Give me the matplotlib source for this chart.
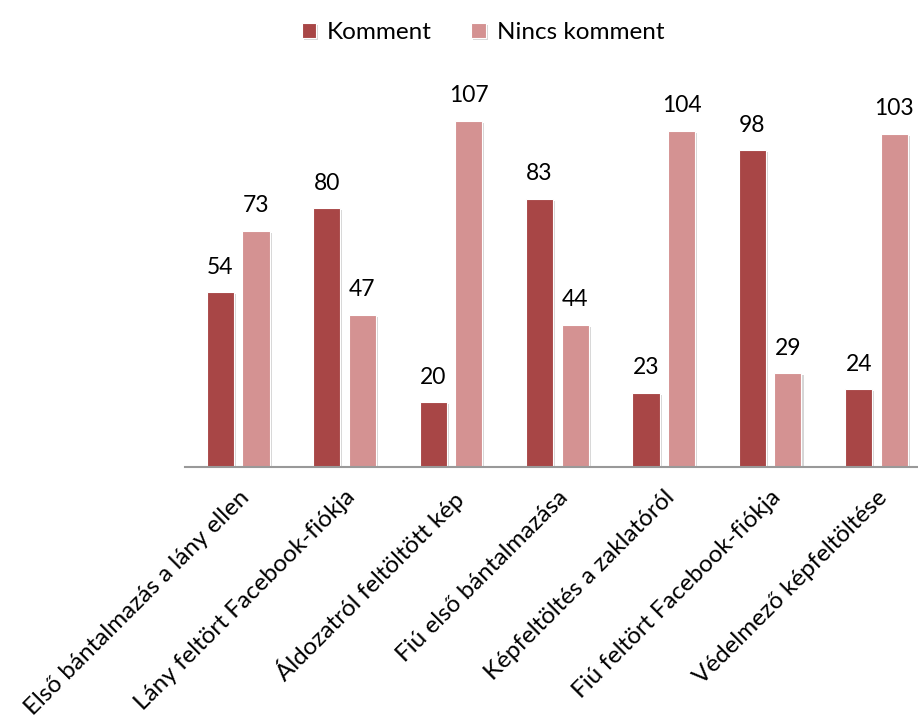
import numpy as np
import matplotlib.pyplot as plt
import matplotlib.patheffects as pe

categories = ['Első bántalmazás a lány ellen', 'Lány feltört Facebook-fiókja',
              'Áldozatról feltöltött kép', 'Fiú első bántalmazása',
              'Képfeltöltés a zaklatóról', 'Fiú feltört Facebook-fiókja',
              'Védelmező képfeltöltése']
komment = [54, 80, 20, 83, 23, 98, 24]
nincs_komment = [73, 47, 107, 44, 104, 29, 103]

dark = '#a84646'
light = '#d49292'

plt.rcParams['font.family'] = ['Lato', 'DejaVu Sans']

fig = plt.figure(figsize=(9.18, 7.22), dpi=100)
ax = fig.add_axes([185 / 918, 1 - 467 / 722, 733 / 918, (467 - 79) / 722])

x = np.arange(len(categories))
w = 0.255
off = 0.167
shadow = [pe.SimplePatchShadow(offset=(1.5, -1.5), shadow_rgbFace='#bbbbbb', alpha=0.6), pe.Normal()]
b1 = ax.bar(x - off, komment, w, color=dark, edgecolor='white', linewidth=0.8, label='Komment')
b2 = ax.bar(x + off, nincs_komment, w, color=light, edgecolor='white', linewidth=0.8, label='Nincs komment')
for p in list(b1) + list(b2):
    p.set_path_effects(shadow)

for bars, vals in [(b1, komment), (b2, nincs_komment)]:
    for p, v in zip(bars, vals):
        ax.text(p.get_x() + p.get_width() / 2, v + 4.5, str(v), ha='center', va='bottom', fontsize=16.5)

ax.set_xlim(-0.5, 6.39)
ax.set_ylim(0, 120)
ax.set_yticks([])
for s in ['top', 'right', 'left']:
    ax.spines[s].set_visible(False)
ax.spines['bottom'].set_color('#999999')
ax.spines['bottom'].set_linewidth(1.5)
ax.set_xticks(x)
ax.set_xticklabels(categories, rotation=45, ha='right', rotation_mode='anchor', fontsize=17.5)
ax.tick_params(axis='x', length=0, pad=14)

fig.legend(handles=[b1, b2], loc='upper center', bbox_to_anchor=(0.526, 1.0), ncol=2,
           frameon=False, fontsize=17.5, handlelength=0.6, handleheight=0.6, columnspacing=1.6,
           handletextpad=0.45)

fig.savefig('out.png', dpi=100)
